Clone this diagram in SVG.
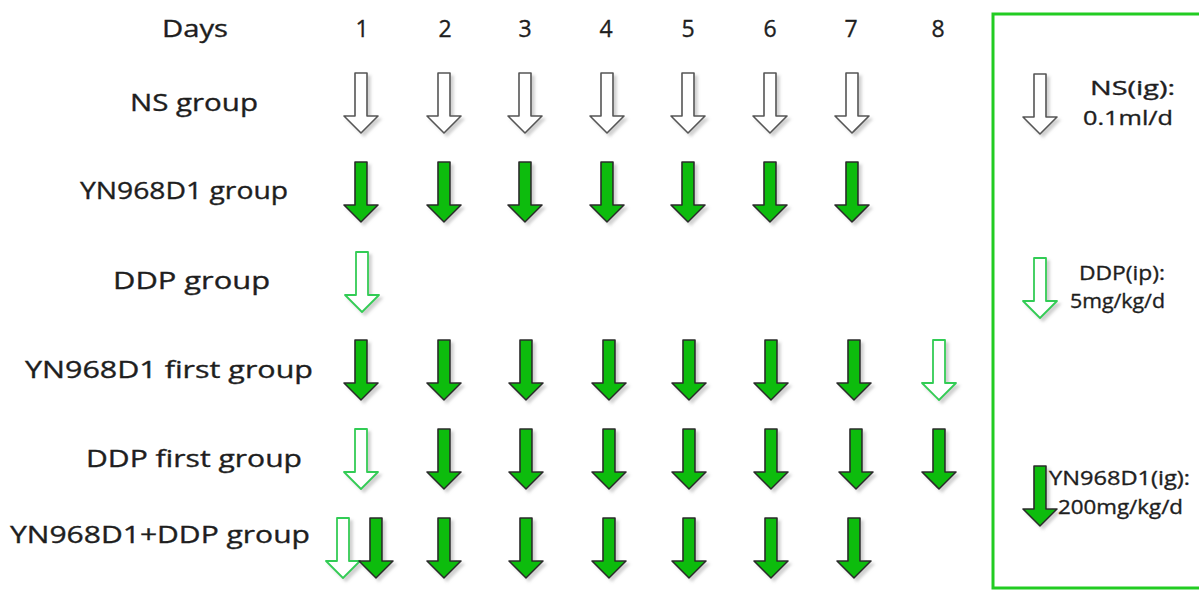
<svg xmlns="http://www.w3.org/2000/svg" xmlns:xlink="http://www.w3.org/1999/xlink" width="1199" height="591" viewBox="0 0 1199 591">
  <style>
    text { font-family: "Open Sans", "Liberation Sans", sans-serif; fill: #1e1e1e; stroke: #1e1e1e; stroke-width: 0.35; }
    .lbl { font-size: 23px; }
    .num { font-size: 23px; text-anchor: middle; }
    .leg { font-size: 20px; }
    .solid { fill: #0cbc0c; stroke: #2b2b2b; stroke-width: 1.6; stroke-linejoin: round; }
    .hollow { fill: #ffffff; stroke: #555555; stroke-width: 1.6; stroke-linejoin: round; }
    .hgreen { fill: #ffffff; stroke: #33cc55; stroke-width: 1.8; stroke-linejoin: round; }
  </style>
  <defs>
    <filter id="shadow" x="-40%" y="-20%" width="190%" height="150%">
      <feDropShadow dx="3" dy="3" stdDeviation="1.6" flood-color="#9a9a9a" flood-opacity="0.45"/>
    </filter>
    <!-- block arrow pointing down, origin at top centre of the shaft -->
    <path id="arrow" d="M-6,0 h12 v43 h11 l-17,17 l-17,-17 h11 z"/>
  </defs>

  <rect width="1199" height="591" fill="#ffffff"/>

  <!-- header row -->
  <g id="days-header">
    <text class="lbl" x="162" y="37" textLength="66" lengthAdjust="spacingAndGlyphs">Days</text>
    <text class="num" x="362" y="37">1</text>
    <text class="num" x="445" y="37">2</text>
    <text class="num" x="525" y="37">3</text>
    <text class="num" x="606" y="37">4</text>
    <text class="num" x="688" y="37">5</text>
    <text class="num" x="770" y="37">6</text>
    <text class="num" x="851" y="37">7</text>
    <text class="num" x="938" y="37">8</text>
  </g>

  <!-- row labels -->
  <g id="row-labels">
    <text class="lbl" x="130" y="111" textLength="128" lengthAdjust="spacingAndGlyphs">NS group</text>
    <text class="lbl" x="80" y="199" textLength="208" lengthAdjust="spacingAndGlyphs">YN968D1 group</text>
    <text class="lbl" x="113" y="289" textLength="157" lengthAdjust="spacingAndGlyphs">DDP group</text>
    <text class="lbl" x="25" y="378" textLength="288" lengthAdjust="spacingAndGlyphs">YN968D1 first group</text>
    <text class="lbl" x="86" y="467" textLength="216" lengthAdjust="spacingAndGlyphs">DDP first group</text>
    <text class="lbl" x="10" y="543" textLength="300" lengthAdjust="spacingAndGlyphs">YN968D1+DDP group</text>
  </g>

  <!-- dosing arrows -->
  <g id="dosing" filter="url(#shadow)">
    <g id="ns-row">
      <use xlink:href="#arrow" class="hollow" x="361" y="73"/>
      <use xlink:href="#arrow" class="hollow" x="444" y="73"/>
      <use xlink:href="#arrow" class="hollow" x="525" y="73"/>
      <use xlink:href="#arrow" class="hollow" x="607" y="73"/>
      <use xlink:href="#arrow" class="hollow" x="688" y="73"/>
      <use xlink:href="#arrow" class="hollow" x="770" y="73"/>
      <use xlink:href="#arrow" class="hollow" x="852" y="73"/>
    </g>
    <g id="yn-row">
      <use xlink:href="#arrow" class="solid" x="361" y="162"/>
      <use xlink:href="#arrow" class="solid" x="444" y="162"/>
      <use xlink:href="#arrow" class="solid" x="525" y="162"/>
      <use xlink:href="#arrow" class="solid" x="607" y="162"/>
      <use xlink:href="#arrow" class="solid" x="688" y="162"/>
      <use xlink:href="#arrow" class="solid" x="770" y="162"/>
      <use xlink:href="#arrow" class="solid" x="852" y="162"/>
    </g>
    <g id="ddp-row">
      <use xlink:href="#arrow" class="hgreen" x="362" y="252"/>
    </g>
    <g id="yn-first-row">
      <use xlink:href="#arrow" class="solid" x="361" y="340"/>
      <use xlink:href="#arrow" class="solid" x="444" y="340"/>
      <use xlink:href="#arrow" class="solid" x="526" y="340"/>
      <use xlink:href="#arrow" class="solid" x="609" y="340"/>
      <use xlink:href="#arrow" class="solid" x="689" y="340"/>
      <use xlink:href="#arrow" class="solid" x="771" y="340"/>
      <use xlink:href="#arrow" class="solid" x="854" y="340"/>
      <use xlink:href="#arrow" class="hgreen" x="939" y="340"/>
    </g>
    <g id="ddp-first-row">
      <use xlink:href="#arrow" class="hgreen" x="361" y="429"/>
      <use xlink:href="#arrow" class="solid" x="444" y="429"/>
      <use xlink:href="#arrow" class="solid" x="526" y="429"/>
      <use xlink:href="#arrow" class="solid" x="609" y="429"/>
      <use xlink:href="#arrow" class="solid" x="689" y="429"/>
      <use xlink:href="#arrow" class="solid" x="771" y="429"/>
      <use xlink:href="#arrow" class="solid" x="856" y="429"/>
      <use xlink:href="#arrow" class="solid" x="939" y="429"/>
    </g>
    <g id="combo-row">
      <use xlink:href="#arrow" class="hgreen" x="343" y="518"/>
      <use xlink:href="#arrow" class="solid" x="376" y="518"/>
      <use xlink:href="#arrow" class="solid" x="444" y="518"/>
      <use xlink:href="#arrow" class="solid" x="526" y="518"/>
      <use xlink:href="#arrow" class="solid" x="609" y="518"/>
      <use xlink:href="#arrow" class="solid" x="689" y="518"/>
      <use xlink:href="#arrow" class="solid" x="771" y="518"/>
      <use xlink:href="#arrow" class="solid" x="854" y="518"/>
    </g>
  </g>

  <!-- legend -->
  <g id="legend">
    <rect x="993" y="14" width="220" height="574" fill="none" stroke="#22cc22" stroke-width="3"/>
    <g id="legend-ns">
      <use xlink:href="#arrow" class="hollow" x="1040" y="74" filter="url(#shadow)"/>
      <text class="leg" x="1090" y="95" textLength="85" lengthAdjust="spacingAndGlyphs">NS(ig):</text>
      <text class="leg" x="1083" y="125" textLength="90" lengthAdjust="spacingAndGlyphs">0.1ml/d</text>
    </g>
    <g id="legend-ddp">
      <use xlink:href="#arrow" class="hgreen" x="1040" y="258" filter="url(#shadow)"/>
      <text class="leg" x="1079" y="280" textLength="86" lengthAdjust="spacingAndGlyphs">DDP(ip):</text>
      <text class="leg" x="1070" y="308" textLength="95" lengthAdjust="spacingAndGlyphs">5mg/kg/d</text>
    </g>
    <g id="legend-yn">
      <use xlink:href="#arrow" class="solid" x="1040" y="466" filter="url(#shadow)"/>
      <text class="leg" x="1049" y="485" textLength="141" lengthAdjust="spacingAndGlyphs">YN968D1(ig):</text>
      <text class="leg" x="1058" y="514" textLength="125" lengthAdjust="spacingAndGlyphs">200mg/kg/d</text>
    </g>
  </g>
</svg>
